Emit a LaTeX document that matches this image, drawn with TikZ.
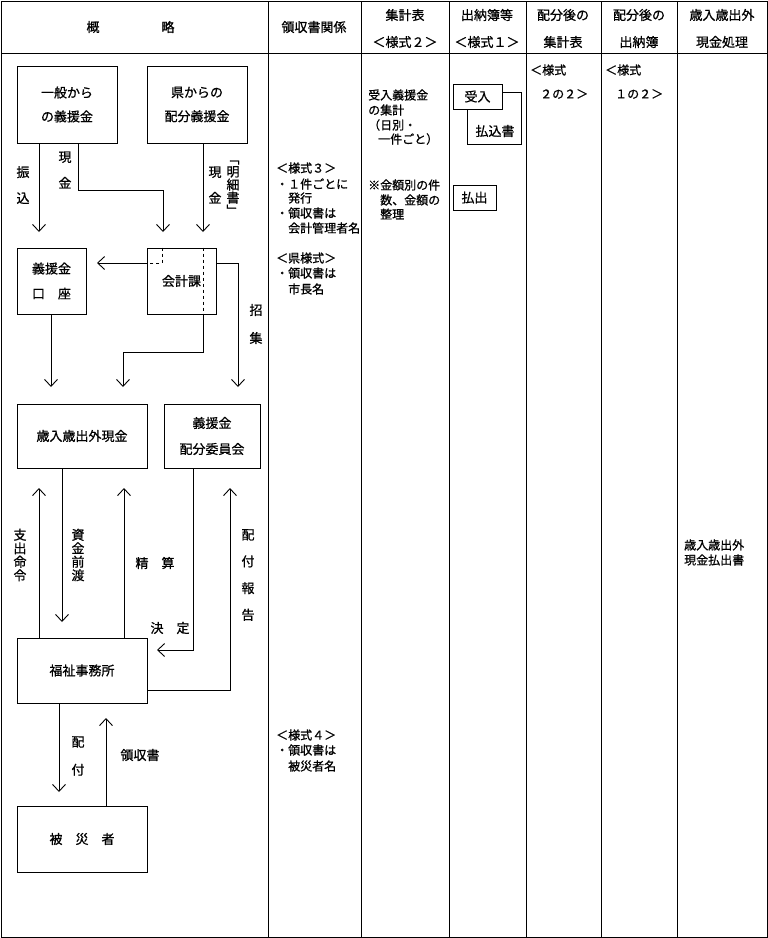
\documentclass[tikz,border=0pt]{standalone}
\usepackage{fontspec}
\setmainfont{Noto Sans CJK JP}[FakeBold=0.8]
\usetikzlibrary{arrows.meta}
\begin{document}
\begin{tikzpicture}[x=1pt,y=-1pt,
  every node/.style={font=\fontsize{13}{15}\selectfont, inner sep=0pt},
  ln/.style={line width=0.9pt},
  box/.style={draw, line width=0.9pt, align=center},
  arr/.style={ln, -{Straight Barb[length=7pt,width=13pt,line width=0.9pt]}},
  vt/.style={align=center, font=\fontsize{13}{13.5}\selectfont},
  tx/.style={anchor=west, font=\fontsize{12}{14}\selectfont}]
\useasboundingbox (0,0) rectangle (768,938);
% table frame
\draw[ln] (1,1) rectangle (767,937);
\draw[ln] (1,53) -- (767,53);
\foreach \c in {268,361,449,526,601,677} \draw[ln] (\c,1) -- (\c,937);
% header
\node (h1a) at (93,27) {概};
\node (h1b) at (168,27) {略};
\node (h2) at (314,27) {領収書関係};
\node (h3a) at (405,15) {集計表};
\node (h3b) at (405,42) {＜様式２＞};
\node (h4a) at (487,15) {出納簿等};
\node (h4b) at (487,42) {＜様式１＞};
\node (h5a) at (563,15) {配分後の};
\node (h5b) at (563,42) {集計表};
\node (h6a) at (639,15) {配分後の};
\node (h6b) at (639,42) {出納簿};
\node (h7a) at (722,15) {歳入歳出外};
\node (h7b) at (722,42) {現金処理};
% boxes
\node[box, minimum width=100pt, minimum height=77pt, font=\fontsize{13}{24}\selectfont] (b1) at (67,104.5) {一般から\\の義援金};
\node[box, minimum width=100pt, minimum height=77pt, font=\fontsize{13}{24}\selectfont] (b2) at (197,104.5) {県からの\\配分義援金};
\node[box, minimum width=69pt, minimum height=66pt, font=\fontsize{13}{25}\selectfont] (b3) at (51.5,281) {義援金\\口　座};
\node[box, minimum width=69pt, minimum height=66pt] (b4) at (181.5,281) {会計課};
\node[box, minimum width=130pt, minimum height=64pt] (b5) at (82,436) {歳入歳出外現金};
\node[box, minimum width=96pt, minimum height=64pt, font=\fontsize{13}{26}\selectfont] (b6) at (212,436) {義援金\\配分委員会};
\node[box, minimum width=130pt, minimum height=65pt] (b7) at (82,670.5) {福祉事務所};
\node[box, minimum width=130pt, minimum height=66pt] (b8) at (82,839) {被　災　者};
% coordinates
\coordinate (t1) at (39,232);
\coordinate (k1) at (78,190);
\coordinate (t2) at (163,232);
\coordinate (t3) at (203,232);
\coordinate (t4) at (97,263);
\coordinate (dc) at (162,263);
\coordinate (dv) at (203,352);
\coordinate (t5) at (123,387);
\coordinate (t6) at (238,387);
\coordinate (t7) at (51,387);
\coordinate (u1) at (39,488);
\coordinate (d1) at (62,622);
\coordinate (u2) at (124,488);
\coordinate (k2) at (193,650);
\coordinate (t8) at (157,650);
\coordinate (k3) at (230,690);
\coordinate (u3) at (230,488);
\coordinate (d2) at (59,792);
\coordinate (u4) at (106,718);
% connectors
\draw[arr] (b1.south -| t1) -- (t1);
\draw[arr] (b1.south -| k1) -- (k1) -| (t2);
\draw[arr] (b2.south -| t3) -- (t3);
\draw[arr] (b4.west |- t4) -- (t4);
\draw[ln, dashed] (b4.north -| dc) -- (dc) -- (b4.west |- dc);
\draw[ln, dashed] (b4.north -| dv) -- (b4.south -| dv);
\draw[arr] (b4.south -| dv) -- (dv) -| (t5);
\draw[arr] (b4.east |- t4) -| (t6);
\draw[arr] (b3.south -| t7) -- (t7);
\draw[arr] (b7.north -| u1) -- (u1);
\draw[arr] (b5.south -| d1) -- (d1);
\draw[arr] (b7.north -| u2) -- (u2);
\draw[arr] (b6.south -| k2) -- (k2) -- (t8);
\draw[arr] (b7.east |- k3) -- (k3) -- (u3);
\draw[arr] (b7.south -| d2) -- (d2);
\draw[arr] (b8.north -| u4) -- (u4);
% connector labels
\node[vt, font=\fontsize{13}{26}\selectfont] (l1) at (23,185) {振\\込};
\node[vt, font=\fontsize{13}{26}\selectfont] (l2) at (65,170) {現\\金};
\node[vt, font=\fontsize{13}{26}\selectfont] (l3) at (215,185) {現\\金};
\node[vt, font=\fontsize{13}{13}\selectfont] (l4) at (233,188) {﹁\\明\\細\\書\\﹂};
\node[vt, font=\fontsize{13}{28}\selectfont] (l5) at (256,324) {招\\集};
\node[vt] (l6) at (20,555) {支\\出\\命\\令};
\node[vt] (l7) at (78,555) {資\\金\\前\\渡};
\node (l8) at (155,563) {精　算};
\node (l9) at (170,628) {決　定};
\node[vt, font=\fontsize{13}{26.7}\selectfont] (l10) at (248,575) {配\\付\\報\\告};
\node[vt, font=\fontsize{13}{28}\selectfont] (l11) at (78,756) {配\\付};
\node (l12) at (140,755) {領収書};
% column 2 texts
\node[tx] (r1) at (276,168) {＜様式３＞};
\node[tx] (r2) at (276,184) {・１件ごとに};
\node[tx] (r3) at (276,198) {　発行};
\node[tx] (r4) at (276,213) {・領収書は};
\node[tx] (r5) at (276,228) {　会計管理者名};
\node[tx] (r6) at (276,258) {＜県様式＞};
\node[tx] (r7) at (276,273) {・領収書は};
\node[tx] (r8) at (276,289) {　市長名};
\node[tx] (r9) at (276,735) {＜様式４＞};
\node[tx] (r10) at (276,750) {・領収書は};
\node[tx] (r11) at (276,766) {　被災者名};
% column 3 texts
\node[tx] (s1) at (368,95) {受入義援金};
\node[tx] (s2) at (368,110) {の集計};
\node[tx] (s3) at (368,125) {（日別・};
\node[tx] (s4) at (378,139) {一件ごと）};
\node[tx] (s5) at (368,185) {※金額別の件};
\node[tx] (s6) at (380,200) {数、金額の};
\node[tx] (s7) at (380,214) {整理};
% column 4 boxes
\node[box, minimum width=54pt, minimum height=52pt] (p1) at (494,118) {};
\node (p1t) at (495,131) {払込書};
\node[box, fill=white, minimum width=49pt, minimum height=25pt] (p2) at (477.5,96.5) {受入};
\node[box, minimum width=43pt, minimum height=25pt] (p3) at (474.5,197.5) {払出};
% column 5,6,7 texts
\node[tx] (c5a) at (530,70) {＜様式};
\node[tx] (c5b) at (540,94) {２の２＞};
\node[tx] (c6a) at (605,70) {＜様式};
\node[tx] (c6b) at (615,94) {１の２＞};
\node[tx] (c7a) at (684,545) {歳入歳出外};
\node[tx] (c7b) at (684,560) {現金払出書};
\end{tikzpicture}
\end{document}
